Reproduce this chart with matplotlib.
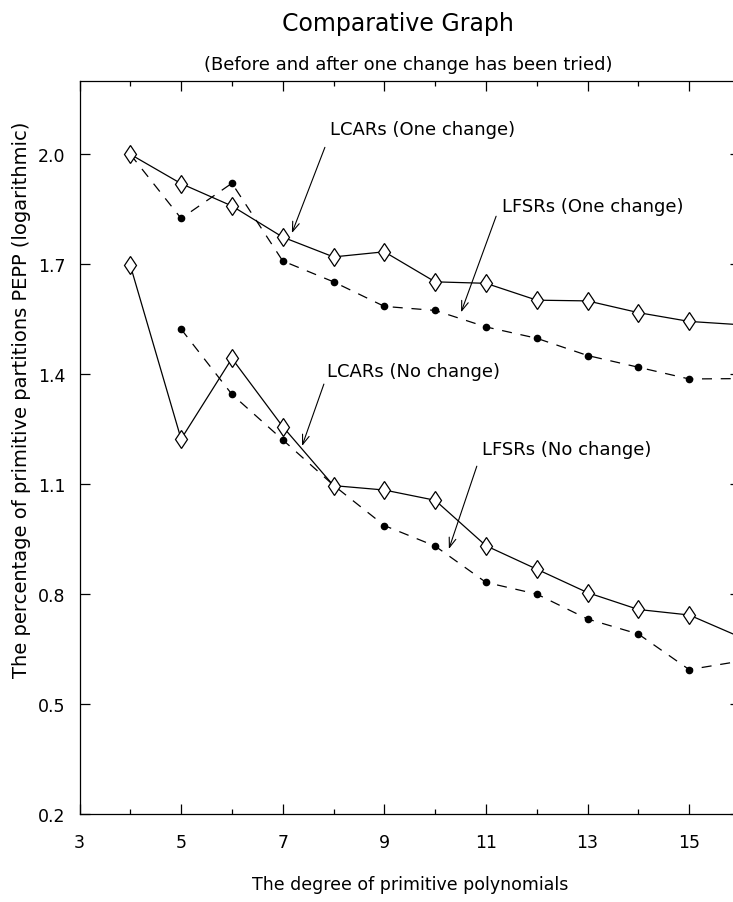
import numpy as np
import matplotlib.pyplot as plt

# degree of primitive polynomials
degrees = [4, 5, 6, 7, 8, 9, 10, 11, 12, 13, 14, 15, 16]
degrees_lfsr_no = [5, 6, 7, 8, 9, 10, 11, 12, 13, 14, 15, 16]

# PEPP (logarithmic) values
lcar_one = [2.000, 1.920, 1.859, 1.774, 1.720, 1.734, 1.652, 1.648, 1.602, 1.600, 1.568, 1.544, 1.535]
lfsr_one = [2.000, 1.825, 1.921, 1.709, 1.652, 1.585, 1.574, 1.529, 1.498, 1.451, 1.419, 1.387, 1.388]
lcar_no = [1.697, 1.223, 1.443, 1.257, 1.096, 1.084, 1.056, 0.932, 0.868, 0.804, 0.758, 0.743, 0.683]
lfsr_no = [1.523, 1.345, 1.221, 1.097, 0.987, 0.931, 0.832, 0.800, 0.732, 0.691, 0.594, 0.617]

xticks = [3, 5, 7, 9, 11, 13, 15]
yticks = [0.2, 0.5, 0.8, 1.1, 1.4, 1.7, 2.0]

plt.rcParams['font.family'] = ['DejaVu Sans']

fig = plt.figure(figsize=(7.33, 9.03), dpi=100)
ax = fig.add_axes([79.5 / 733, 1 - 815 / 903, 660.5 / 733, 733 / 903])

solid = dict(color='black', lw=0.9, marker='d', markersize=9.5,
             markerfacecolor='white', markeredgecolor='black', markeredgewidth=0.9)
dashed = dict(color='black', lw=0.9, dashes=(8, 7), marker='o', markersize=4.5,
              markerfacecolor='black', markeredgecolor='black')

ax.plot(degrees, lfsr_one, **dashed)
ax.plot(degrees_lfsr_no, lfsr_no, **dashed)
ax.plot(degrees, lcar_one, **solid)
ax.plot(degrees, lcar_no, **solid)

ax.set_xlim(3, 16)
ax.set_ylim(0.2, 2.2)
ax.set_xticks(xticks)
ax.set_xticks(range(4, 17, 2), minor=True)
ax.set_yticks(yticks)
ax.set_xticklabels([str(t) for t in xticks])
ax.set_yticklabels(['%.1f' % t for t in yticks])

ax.tick_params(which='both', direction='in', top=True, right=True, labelsize=12.5, width=0.9)
ax.tick_params(axis='x', which='major', length=7, pad=14)
ax.tick_params(axis='x', which='minor', length=3.5)
ax.tick_params(axis='y', which='major', length=7, pad=10)
for s in ax.spines.values():
    s.set_linewidth(0.9)

arrow = dict(arrowstyle='->, head_length=0.7, head_width=0.25', color='black', lw=0.8,
             shrinkA=0, shrinkB=0)
fs = 13

ax.text(7.93, 2.068, 'LCARs (One change)', fontsize=fs, ha='left', va='center')
ax.annotate('', xy=(7.18, 1.785), xytext=(7.83, 2.019), arrowprops=arrow)

ax.text(11.32, 1.858, 'LFSRs (One change)', fontsize=fs, ha='left', va='center')
ax.annotate('', xy=(10.51, 1.569), xytext=(11.20, 1.831), arrowprops=arrow)

ax.text(7.87, 1.408, 'LCARs (No change)', fontsize=fs, ha='left', va='center')
ax.annotate('', xy=(7.38, 1.204), xytext=(7.81, 1.373), arrowprops=arrow)

ax.text(10.92, 1.196, 'LFSRs (No change)', fontsize=fs, ha='left', va='center')
ax.annotate('', xy=(10.27, 0.923), xytext=(10.82, 1.149), arrowprops=arrow)

fig.text(398 / 733, 1 - 24 / 903, 'Comparative Graph', fontsize=17, ha='center', va='center')
fig.text(408 / 733, 1 - 65 / 903, '(Before and after one change has been tried)',
         fontsize=13, ha='center', va='center')
fig.text(410 / 733, 1 - 885 / 903, 'The degree of primitive polynomials',
         fontsize=12.5, ha='center', va='center')
fig.text(22 / 733, 1 - 400 / 903, 'The percentage of primitive partitions PEPP (logarithmic)',
         fontsize=14, ha='center', va='center', rotation=90)

fig.savefig('out.png', dpi=100)
